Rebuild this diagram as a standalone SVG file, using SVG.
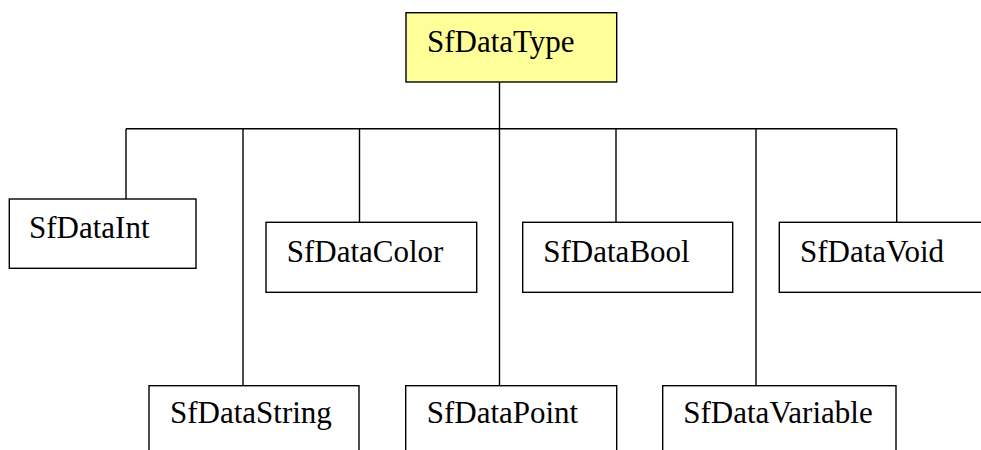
<svg xmlns="http://www.w3.org/2000/svg" width="981" height="450" viewBox="0 0 981 450">
<style>
.box{fill:#ffffff;stroke:#000000;stroke-width:1.4}
.root{fill:#ffff99}
.lbl{font-family:"Liberation Serif","Times New Roman",serif;font-size:31px;fill:#000000}
.con{fill:none;stroke:#000000;stroke-width:1.4}
</style>
<rect width="981" height="450" fill="#ffffff"/>
<g id="connectors">
<line class="con" x1="499.5" y1="82" x2="499.5" y2="386"/>
<line class="con" x1="126" y1="128.7" x2="896.7" y2="128.7"/>
<line class="con" x1="126" y1="128.7" x2="126" y2="199"/>
<line class="con" x1="243" y1="128.7" x2="243" y2="386"/>
<line class="con" x1="359.5" y1="128.7" x2="359.5" y2="222.3"/>
<line class="con" x1="616" y1="128.7" x2="616" y2="222.3"/>
<line class="con" x1="756" y1="128.7" x2="756" y2="386"/>
<line class="con" x1="896.7" y1="128.7" x2="896.7" y2="222.3"/>
</g>
<g id="SfDataType">
<rect class="box root" x="406" y="12.7" width="210.7" height="69.3"/>
<text class="lbl" x="427" y="52">SfDataType</text>
</g>
<g id="SfDataInt">
<rect class="box" x="9.3" y="199" width="186.7" height="69.3"/>
<text class="lbl" x="29" y="238.3">SfDataInt</text>
</g>
<g id="SfDataColor">
<rect class="box" x="266" y="222.3" width="210.7" height="70"/>
<text class="lbl" x="286.7" y="261.7">SfDataColor</text>
</g>
<g id="SfDataBool">
<rect class="box" x="522.7" y="222.3" width="210" height="70"/>
<text class="lbl" x="543.3" y="261.7">SfDataBool</text>
</g>
<g id="SfDataVoid">
<rect class="box" x="779.3" y="222.3" width="230" height="70"/>
<text class="lbl" x="800" y="261.7">SfDataVoid</text>
</g>
<g id="SfDataString">
<rect class="box" x="149" y="385.7" width="210" height="80"/>
<text class="lbl" x="170" y="423.3">SfDataString</text>
</g>
<g id="SfDataPoint">
<rect class="box" x="405.7" y="385.7" width="211" height="80"/>
<text class="lbl" x="426.7" y="423.3">SfDataPoint</text>
</g>
<g id="SfDataVariable">
<rect class="box" x="662.7" y="385.7" width="233.3" height="80"/>
<text class="lbl" x="683.3" y="423.3">SfDataVariable</text>
</g>
</svg>
